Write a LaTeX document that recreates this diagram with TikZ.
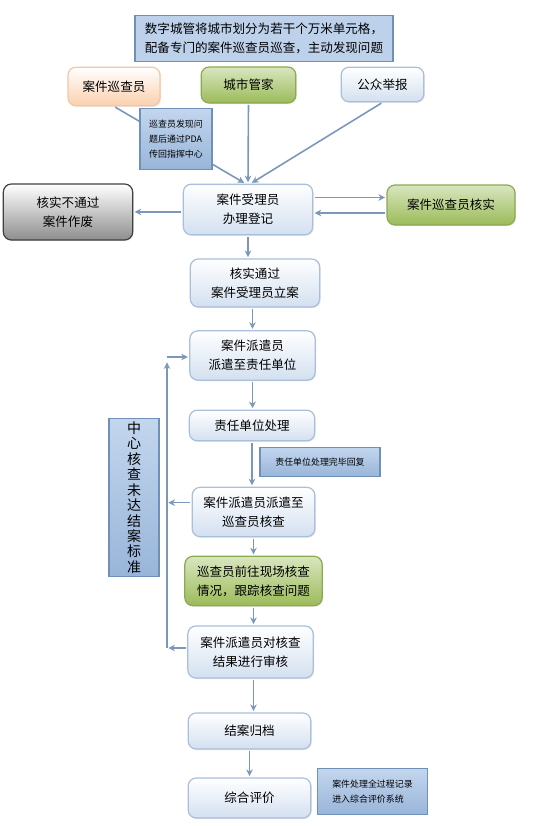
\documentclass[tikz,border=0pt]{standalone}
\usepackage{fontspec}
\usepackage{tikz}
\usepackage{xcolor}
\usetikzlibrary{arrows.meta,shadows}
\newfontfamily\cjk{Noto Sans CJK SC}

\definecolor{boxline}{HTML}{A9BFDA}
\definecolor{boxbot}{HTML}{D3E0F0}
\definecolor{greentop}{HTML}{D9E6BF}
\definecolor{greenbot}{HTML}{9BBB59}
\definecolor{greenline}{HTML}{8CAA52}
\definecolor{peachbot}{HTML}{FAD0AE}
\definecolor{peachline}{HTML}{F6C6A0}
\definecolor{graybot}{HTML}{8E8E8E}
\definecolor{notetop}{HTML}{C3D6EE}
\definecolor{notebot}{HTML}{98B5D9}
\definecolor{noteline}{HTML}{7090B8}
\definecolor{flowline}{HTML}{7C97BC}

\begin{document}
\begin{tikzpicture}[x=0.75pt,y=-0.75pt,
    box/.style={draw=boxline,line width=0.9pt,rounded corners=6pt,
      top color=white,bottom color=boxbot,align=center,
      font=\cjk\fontsize{9.4}{14.2}\selectfont,inner sep=1pt,
      drop shadow={opacity=0.18,shadow xshift=0.8pt,shadow yshift=-0.8pt}},
    greenbox/.style={box,draw=greenline,top color=greentop,bottom color=greenbot},
    peachbox/.style={box,draw=peachline,top color=white,bottom color=peachbot},
    graybox/.style={box,draw=black!75,top color=white,bottom color=graybot},
    note/.style={draw=noteline,line width=0.9pt,top color=notetop,bottom color=notebot,
      align=left,font=\cjk\fontsize{6.7}{11.5}\selectfont,inner sep=2pt},
    flow/.style={draw=flowline,line width=1.2pt,-{Stealth[length=5pt,width=5pt]},
      shorten <=1pt,shorten >=1pt}]
\useasboundingbox (0,0) rectangle (537,826);

% top and sources
\node[draw=noteline,line width=0.9pt,fill=notetop!85!notebot,align=left,
  font=\cjk\fontsize{9.4}{14.2}\selectfont,minimum width=193.5pt,minimum height=35pt]
  (intro) at (264,38.5) {数字城管将城市划分为若干个万米单元格，\\配备专门的案件巡查员巡查，主动发现问题};
\node[peachbox,minimum width=69pt,minimum height=29pt] (patrol) at (114,86.5) {案件巡查员};
\node[greenbox,minimum width=71pt,minimum height=27pt] (steward) at (248.5,85) {城市管家};
\node[box,minimum width=62pt,minimum height=26pt] (public) at (382.5,84.5) {公众举报};

% registration row
\node[box,minimum width=97pt,minimum height=38pt] (register) at (248,209.5) {案件受理员\\办理登记};
\node[graybox,minimum width=97pt,minimum height=42pt] (void) at (68,212) {核实不通过\\案件作废};
\node[greenbox,minimum width=96pt,minimum height=30pt] (verify) at (451,205) {案件巡查员核实};

\draw[flow] (patrol.south) -- ([xshift=-2pt]register.north);
\node[note,minimum width=54pt,minimum height=46pt] (pdanote) at (176,139)
  {巡查员发现问\\题后通过PDA\\传回指挥中心};
\draw[flow] (steward.south) -- (register.north);
\draw[flow] (public.south) -- ([xshift=2pt]register.north);

\draw[flow] ([yshift=9pt]register.east) -- ([yshift=9pt]register.east -| verify.west);
\draw[flow] ([yshift=-2.6pt]register.east -| verify.west) -- ([yshift=-2.6pt]register.east);
\draw[flow] ([yshift=-1.8pt]register.west) -- ([yshift=-1.8pt]register.west -| void.east);

% main chain
\node[box,minimum width=97pt,minimum height=36pt] (accept) at (255,283) {核实通过\\案件受理员立案};
\node[box,minimum width=94pt,minimum height=37pt] (dispatch) at (252.5,355.5) {案件派遣员\\派遣至责任单位};
\node[box,minimum width=94pt,minimum height=23pt] (handle) at (252,425.5) {责任单位处理};
\node[note,minimum width=90pt,minimum height=22pt] (replynote) at (320,462) {责任单位处理完毕回复};
\node[box,minimum width=92pt,minimum height=37pt] (recheck) at (253.5,512) {案件派遣员派遣至\\巡查员核查};
\node[greenbox,minimum width=103pt,minimum height=37pt] (onsite) at (253.5,581) {巡查员前往现场核查\\情况，跟踪核查问题};
\node[box,minimum width=94pt,minimum height=39pt] (review) at (250.5,652) {案件派遣员对核查\\结果进行审核};
\node[box,minimum width=92pt,minimum height=27pt] (archive) at (249.5,731) {结案归档};
\node[box,minimum width=92pt,minimum height=30pt] (evaluate) at (249.5,798) {综合评价};
\node[note,minimum width=82pt,minimum height=35pt] (evalnote) at (372.5,791.5)
  {案件处理全过程记录\\进入综合评价系统};

\draw[flow] (register.south) -- (register.south |- accept.north);
\draw[flow] (accept.south -| dispatch.south) -- (dispatch.north);
\draw[flow] (dispatch.south) -- (dispatch.south |- handle.north);
\draw[flow] (handle.south) -- (handle.south |- recheck.north);
\draw[flow] (recheck.south) -- (recheck.south |- onsite.north);
\draw[flow] (onsite.south) -- (onsite.south |- review.north);
\draw[flow] (review.south -| onsite.south) -- (onsite.south |- archive.north);
\draw[flow] (archive.south) -- (archive.south |- evaluate.north);

% feedback loop
\node[note,align=center,font=\cjk\fontsize{10.5}{11.6}\selectfont,
  minimum width=37.5pt,minimum height=119pt,text width=12pt] (loopnote) at (134,497.5)
  {中\\心\\核\\查\\未\\达\\结\\案\\标\\准};
\coordinate (loopbot) at (167,648);
\coordinate (looptop) at (167,357);
\draw[flow] ([yshift=7pt]recheck.west) -- ([yshift=7pt]recheck.west -| loopbot);
\draw[flow] ([yshift=3pt]review.west) -- (loopbot);
\draw[flow,shorten <=0pt] (loopbot) -- ([yshift=-3pt]looptop);
\draw[flow,shorten <=0pt] (looptop) -- (looptop -| dispatch.west);
\end{tikzpicture}
\end{document}
